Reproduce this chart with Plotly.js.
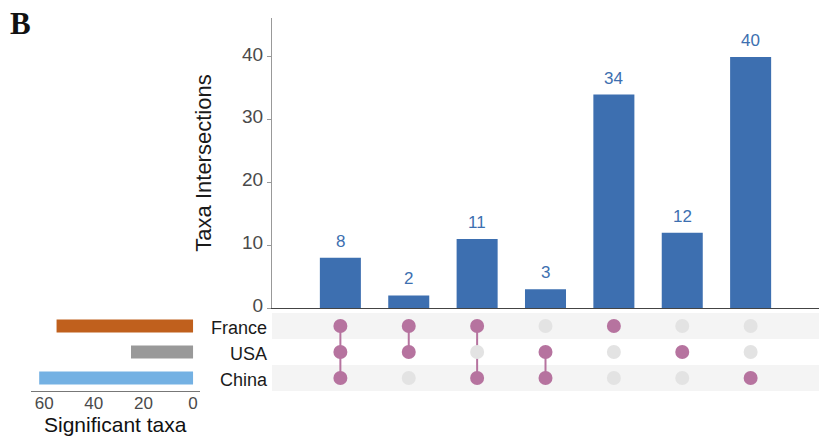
<!DOCTYPE html>
<html>
<head>
<meta charset="utf-8">
<script src="https://cdn.plot.ly/plotly-3.0.1.min.js"></script>
<style>html,body{margin:0;padding:0;background:#fff}#chart{width:819px;height:436px}</style>
</head>
<body>
<div id="chart"></div>
<script>
// ---- data ----
const sets = ['France', 'USA', 'China'];
const setSizes = [55, 25, 62];
const setColors = ['#C0601D', '#999999', '#74B1E3'];
const intersectionCounts = [8, 2, 11, 3, 34, 12, 40];
const membershipFrance = [1, 1, 1, 0, 1, 0, 0];
const membershipUSA    = [1, 1, 0, 1, 0, 1, 0];
const membershipChina  = [1, 0, 1, 1, 0, 0, 1];
const yTicks = [0, 10, 20, 30, 40];
const sizeTicks = [0, 20, 40, 60];

// ---- build ----
const W = 819, H = 436;
const px = v => v / W, py = v => 1 - v / H;
const memberships = [membershipFrance, membershipUSA, membershipChina];
const rowPos = sets.map((s, i) => sets.length - 1 - i); // France top
const cols = intersectionCounts.map((_, i) => i + 1);

const barColor = '#3D6FB0';
const onColor = '#B6739F';
const offColor = '#E3E3E3';
const font = 'Liberation Sans, Arial, sans-serif';

const traces = [];
traces.push({
  type: 'bar', x: cols, y: intersectionCounts, xaxis: 'x', yaxis: 'y',
  marker: {color: barColor}, width: 0.6, hoverinfo: 'skip'
});

// connecting lines
cols.forEach((c, j) => {
  const act = memberships.map((m, i) => m[j] ? rowPos[i] : null).filter(v => v !== null);
  if (act.length > 1) {
    traces.push({
      type: 'scatter', mode: 'lines', x: [c, c], y: [Math.min(...act), Math.max(...act)],
      xaxis: 'x', yaxis: 'y2', line: {color: onColor, width: 2}, hoverinfo: 'skip', showlegend: false
    });
  }
});
// dots
memberships.forEach((m, i) => {
  traces.push({
    type: 'scatter', mode: 'markers', x: cols, y: cols.map(() => rowPos[i]),
    xaxis: 'x', yaxis: 'y2',
    marker: {size: 14, color: m.map(v => v ? onColor : offColor)},
    hoverinfo: 'skip', showlegend: false
  });
});
// set size bars
traces.push({
  type: 'bar', orientation: 'h', x: setSizes, y: rowPos, xaxis: 'x3', yaxis: 'y2',
  marker: {color: setColors}, width: 0.5, hoverinfo: 'skip', showlegend: false
});

const shapes = [];
rowPos.forEach((r, i) => {
  if (i % 2 === 0) {
    shapes.push({type: 'rect', xref: 'paper', yref: 'y2', x0: px(272), x1: 1, y0: r - 0.5, y1: r + 0.5,
      fillcolor: '#F4F4F4', line: {width: 0}, layer: 'below'});
  }
});

const annotations = intersectionCounts.map((v, i) => ({
  text: String(v), xref: 'x', yref: 'y', x: cols[i], y: v, xanchor: 'center', yanchor: 'bottom',
  yshift: 5, showarrow: false, font: {family: font, size: 17, color: barColor}
}));
annotations.push({text: '<b>B</b>', xref: 'paper', yref: 'paper', x: px(8), y: py(4), xanchor: 'left', yanchor: 'top',
  showarrow: false, font: {family: 'Liberation Serif, serif', size: 31, color: '#111'}});
annotations.push({text: 'Significant taxa', xref: 'paper', yref: 'paper', x: px(115), y: 0, xanchor: 'center', yanchor: 'bottom',
  yshift: -2, showarrow: false, font: {family: font, size: 21, color: '#111'}});

const layout = {
  width: W, height: H, margin: {l: 0, r: 0, t: 0, b: 0},
  paper_bgcolor: '#fff', plot_bgcolor: 'rgba(0,0,0,0)',
  showlegend: false, font: {family: font, color: '#444'},
  xaxis: {domain: [px(272), 1], range: [0, 8], anchor: 'y', showgrid: false, zeroline: false,
    showline: true, linecolor: '#444', linewidth: 1.2, showticklabels: false, ticks: ''},
  yaxis: {domain: [py(308), py(18)], range: [0, 46.2], anchor: 'x', showgrid: false, zeroline: false,
    showline: true, linecolor: '#999', linewidth: 1, ticks: 'outside', ticklen: 4, tickcolor: '#999',
    tickvals: yTicks, tickfont: {size: 19, color: '#4a4a4a'}, ticklabelshift: -3,
    title: {text: 'Taxa Intersections', font: {size: 22, color: '#1a1a1a'}, standoff: 24}},
  yaxis2: {domain: [py(391), py(313)], range: [-0.5, 2.5], anchor: 'x', showgrid: false, zeroline: false,
    showline: false, tickvals: rowPos, ticktext: sets, ticks: '', ticklabelstandoff: 4, ticklabelshift: 2,
    tickfont: {size: 18, color: '#1a1a1a'}},
  xaxis3: {domain: [px(31), px(200)], range: [65.3, -2.8], anchor: 'y2', showgrid: false, zeroline: false,
    showline: true, linecolor: '#777', linewidth: 1, ticks: '', tickvals: sizeTicks,
    tickfont: {size: 17, color: '#4a4a4a'}, ticklabelstandoff: -3},
  shapes: shapes,
  annotations: annotations
};

Plotly.newPlot('chart', traces, layout, {staticPlot: true, displayModeBar: false});
</script>
</body>
</html>
